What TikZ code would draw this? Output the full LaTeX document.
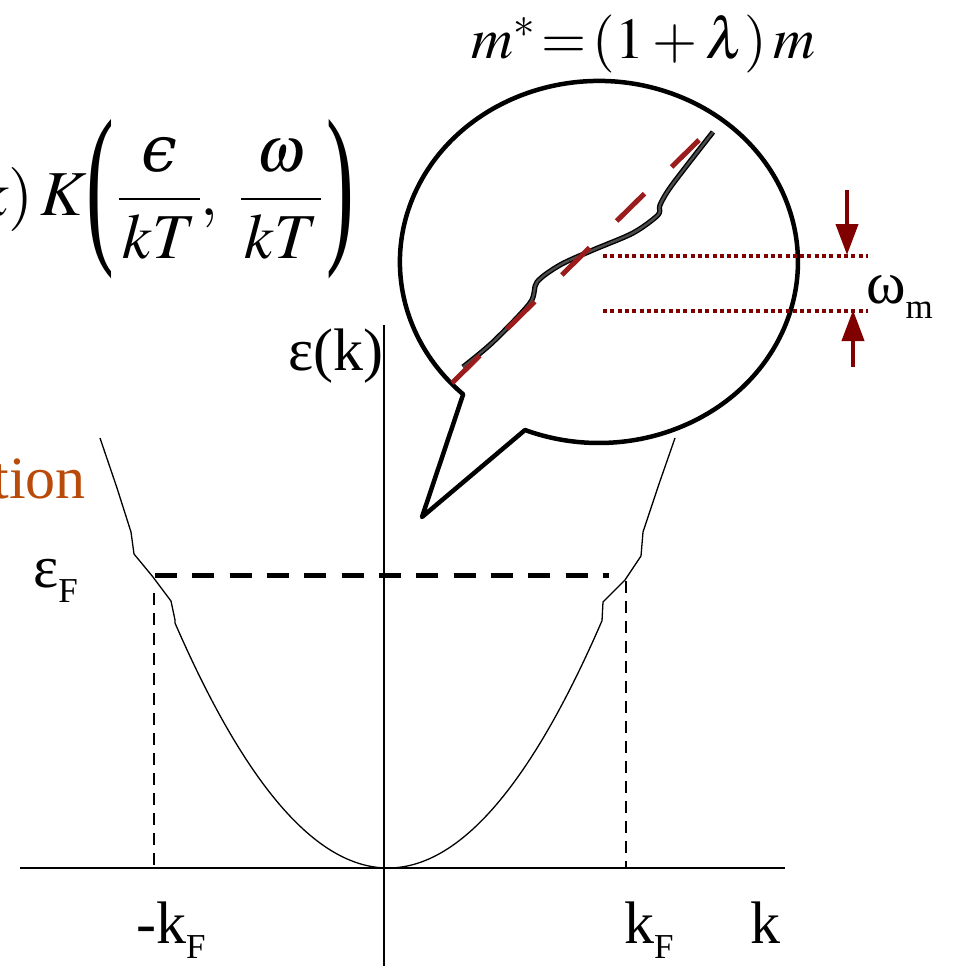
\documentclass[tikz,border=0pt]{standalone}
\usepackage{amsmath}
\usepackage{graphicx}
\usepackage{mathptmx}
\usepackage[no-math]{fontspec}
\setmainfont{Liberation Serif}
\newfontfamily\lunatefont{DejaVu Serif}
\usetikzlibrary{arrows.meta}
\definecolor{brickred}{RGB}{185,75,10}
\definecolor{darkred}{RGB}{128,0,0}
\definecolor{fitred}{RGB}{155,28,28}
\newcommand{\lowsub}[1]{\raisebox{-15pt}{\fontsize{35}{40}\selectfont #1}}
\newcommand{\tallL}{\mathopen{\vcenter{\hbox{\scalebox{1.3}[2.75]{\normalfont(}}}}}
\newcommand{\tallR}{\mathclose{\vcenter{\hbox{\scalebox{1.3}[2.75]{\normalfont)}}}}}

\begin{document}
\begin{tikzpicture}[x=1pt,y=-1pt,>={Triangle[length=31pt,width=22pt]}, line join=round, line cap=butt,
	lbl/.style={inner sep=0pt,font=\fontsize{60}{66}\selectfont},
	axis/.style={line width=1.6pt},
	guide/.style={line width=2.5pt,dash pattern=on 12pt off 8pt},
	fermi/.style={line width=5pt,dash pattern=on 22pt off 15.33pt},
	disp/.style={line width=1.3pt},
	bubble/.style={line width=4.5pt},
	renorm/.style={double=black!70,double distance=2.4pt,line width=1.4pt},
	bare/.style={fitred,line width=5pt,dash pattern=on 39pt off 38pt},
	level/.style={darkred,line width=3.5pt,dash pattern=on 4pt off 3.3pt},
	gap/.style={darkred,line width=4pt,->}]
	\useasboundingbox (0,0) rectangle (955,966);
	% axes
	\draw[axis,line width=2pt] (20,868)--(785,868);
	\draw[axis] (384,325)--(384,966);
	% dispersion with kinks at the Fermi level
	\draw[disp] (100,438)--(117,488)--(131,532)--(134,554)--(153,577)--(171,601)--(175,620)
		--plot[smooth,samples=60,domain=175:602] (\x,{868-54*((\x-388)/100)^2})
		--(603,602)--(625,580)--(641,556)--(643,532)--(659,484)--(675,438);
	\draw[fermi] (155,575)--(609,575);
	\draw[guide] (154,593)--(154,868);
	\draw[guide] (626,581)--(626,868);
	% speech bubble
	\draw[bubble] (525,430) arc[start angle=111.8,end angle=-227,x radius=199,y radius=181]--(422,517)--cycle;
	\draw[renorm] plot[smooth,tension=0.5] coordinates {(463,367) (493,342) (530,303) (537,282) (560,265)
		(593,250) (633,233) (658,215) (660,205) (672,185) (713,132)};
	\draw[bare] (452,383)--(699,140);
	\draw[level] (603,256)--(868,256);
	\draw[level] (603,311)--(868,311);
	\coordinate (wtop) at (847,190);
	\coordinate (wtopend) at (847,255);
	\coordinate (wbot) at (853,367);
	\coordinate (wbotend) at (853,310);
	\draw[gap] (wtop)--(wtopend);
	\draw[gap] (wbot)--(wbotend);
	% labels
	\node[lbl,anchor=base west] (wm) at (866,303) {ω\lowsub{m}};
	\node[lbl,anchor=base east] (ek) at (384,370) {ε(k)};
	\node[lbl,anchor=base west] (eF) at (33,587) {ε\lowsub{F}};
	\node[lbl,anchor=base west] (mkF) at (136,943) {-k\lowsub{F}};
	\node[lbl,anchor=base west] (kF) at (624,943) {k\lowsub{F}};
	\node[lbl,anchor=base west] (kk) at (750,943) {k};
	\node[lbl,anchor=base east,text=brickred] (tion) at (86,498) {tion};
	\node[lbl,anchor=base west,font=\fontsize{58}{64}\selectfont] (mass) at (471,59) {$m^{*}\!=\!(1+\lambda)\,m$};
	\node[lbl,anchor=base east,font=\fontsize{64}{70}\selectfont] (kern) at (354,215)
		{$k)\,K\tallL\mkern1mu\dfrac{\text{\lunatefont\itshape ϵ}}{\mkern1mu kT\mkern1mu},\;\dfrac{\omega}{\mkern1mu kT\mkern1mu}\mkern1mu\tallR$};
\end{tikzpicture}
\end{document}
